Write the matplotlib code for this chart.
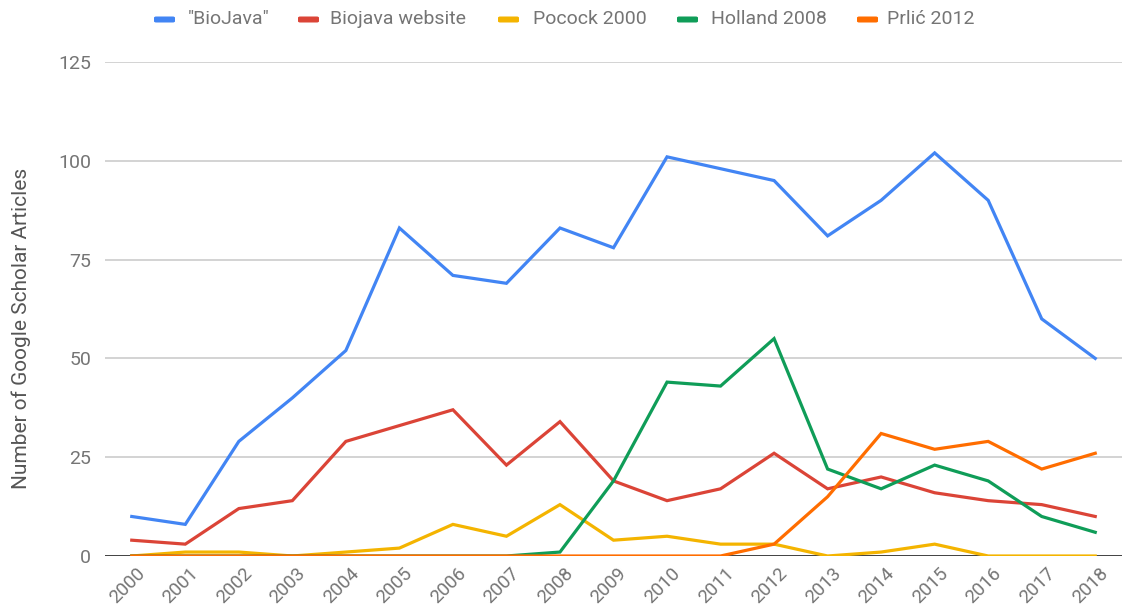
import matplotlib
matplotlib.use("Agg")
import matplotlib.pyplot as plt
import matplotlib.transforms as mtransforms
from matplotlib.patches import FancyBboxPatch

years = list(range(2000, 2019))
series_names = ['"BioJava"', "Biojava website", "Pocock 2000", "Holland 2008", "Prlić 2012"]
biojava = [10, 8, 29, 40, 52, 83, 71, 69, 83, 78, 101, 98, 95, 81, 90, 102, 90, 60, 50]
website = [4, 3, 12, 14, 29, 33, 37, 23, 34, 19, 14, 17, 26, 17, 20, 16, 14, 13, 10]
pocock = [0, 1, 1, 0, 1, 2, 8, 5, 13, 4, 5, 3, 3, 0, 1, 3, 0, 0, 0]
holland = [0, 0, 0, 0, 0, 0, 0, 0, 1, 19, 44, 43, 55, 22, 17, 23, 19, 10, 6]
prlic = [0, 0, 0, 0, 0, 0, 0, 0, 0, 0, 0, 0, 3, 15, 31, 27, 29, 22, 26]
yticks = [0, 25, 50, 75, 100, 125]
ylabel = "Number of Google Scholar Articles"

colors = ["#4285F4", "#DB4437", "#F4B400", "#0F9D58", "#FF6D00"]
series = [biojava, website, pocock, holland, prlic]

plt.rcParams["font.family"] = ["Roboto", "DejaVu Sans"]
W, H = 1129, 609
fig = plt.figure(figsize=(W / 100, H / 100), dpi=100)
ax = fig.add_axes([105 / W, (H - 556) / H, (1122 - 105) / W, (556 - 62) / H])

for v in yticks[1:]:
    ax.axhline(v, color="#cccccc", lw=1.2, zorder=1)
ax.axhline(0, color="#333333", lw=1.3, zorder=1)

for s, c in zip(series, colors):
    ax.plot(years, s, color=c, lw=2.3, zorder=3, solid_joinstyle="miter")

ax.set_xlim(1999.5, 2018.5)
ax.set_ylim(0, 125)
ax.set_yticks(yticks)
ax.set_yticklabels([str(v) for v in yticks], fontsize=14, color="#757575")
ax.set_xticks(years)
ax.set_xticklabels([str(y) for y in years], fontsize=13.5, color="#757575",
                   rotation=45, ha="right", va="top", rotation_mode="anchor")
ax.tick_params(axis="both", length=0)
ax.tick_params(axis="y", pad=10)
ax.tick_params(axis="x", pad=0)
offset = mtransforms.ScaledTranslation(4 / 100, -8 / 100, fig.dpi_scale_trans)
for lbl in ax.get_xticklabels():
    lbl.set_transform(lbl.get_transform() + offset)
for sp in ax.spines.values():
    sp.set_visible(False)
ax.set_ylabel(ylabel, fontsize=15, color="#555555")
ax.yaxis.set_label_coords(-0.0728, 0.46)

# legend
marker_x = [154, 298, 498, 677, 857]
text_x = [188, 330, 533, 711, 887]
for name, c, mx, tx in zip(series_names, colors, marker_x, text_x):
    fig.patches.append(FancyBboxPatch((mx / W, (H - 22.5) / H), 21 / W, 6 / H,
                                      boxstyle="round,pad=0,rounding_size=0.002",
                                      transform=fig.transFigure, color=c, ec="none"))
    fig.text(tx / W, (H - 19.5) / H, name, fontsize=14, color="#757575",
             ha="left", va="center")

fig.savefig("out.png", dpi=100, facecolor="white")
